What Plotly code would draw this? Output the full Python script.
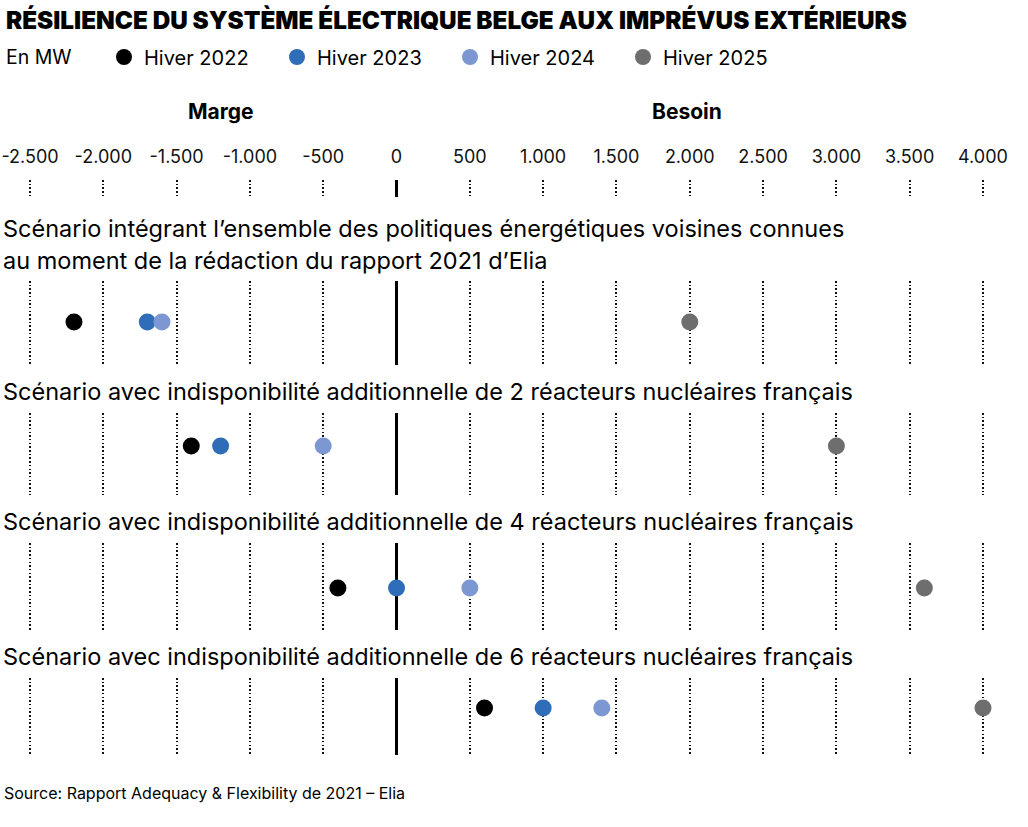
import plotly.graph_objects as go

# ---------------- data ----------------
scenario_lines = [
    ["Scénario intégrant l’ensemble des politiques énergétiques voisines connues",
     "au moment de la rédaction du rapport 2021 d’Elia"],
    ["Scénario avec indisponibilité additionnelle de 2 réacteurs nucléaires français"],
    ["Scénario avec indisponibilité additionnelle de 4 réacteurs nucléaires français"],
    ["Scénario avec indisponibilité additionnelle de 6 réacteurs nucléaires français"],
]
series_names = ["Hiver 2022", "Hiver 2023", "Hiver 2024", "Hiver 2025"]
hiver_2022 = [-2200, -1400, -400, 600]
hiver_2023 = [-1700, -1200, 0, 1000]
hiver_2024 = [-1600, -500, 500, 1400]
hiver_2025 = [2000, 3000, 3600, 4000]
series_values = [hiver_2022, hiver_2023, hiver_2024, hiver_2025]
tick_vals = [-2500, -2000, -1500, -1000, -500, 0, 500, 1000, 1500, 2000, 2500, 3000, 3500, 4000]
tick_text = ["-2.500", "-2.000", "-1.500", "-1.000", "-500", "0", "500", "1.000",
             "1.500", "2.000", "2.500", "3.000", "3.500", "4.000"]

# ---------------- styles ----------------
colors = ["#000000", "#2F6DB8", "#7C97D1", "#6E6E6E"]
W, H = 1028, 827
X0_PX, X1_PX = 30, 983          # pixel positions of -2500 and 4000
PAD_PX = 3
ML = X0_PX - PAD_PX
MR = W - X1_PX - PAD_PX
PW = W - ML - MR
lo, hi = tick_vals[0], tick_vals[-1]
upp = (hi - lo) / (X1_PX - X0_PX)   # units per pixel
xrange = [lo - PAD_PX * upp, hi + PAD_PX * upp]
FONT = "Inter"


def px2x(px):
    return (px - ML) / PW


def py2y(py):
    return 1 - py / H


header_band = (180, 197)
panel_bands = [(281, 365, 322), (413, 495, 446), (543, 630, 588), (678, 755, 708)]
title_rows = [[228, 260], [391], [521], [656]]

fig = go.Figure()

layout = dict(
    width=W, height=H,
    margin=dict(l=ML, r=MR, t=0, b=0, pad=0),
    paper_bgcolor="white", plot_bgcolor="white",
    font=dict(family=FONT, color="black"),
    showlegend=True,
)

xcommon = dict(
    range=xrange, tickvals=tick_vals, ticktext=tick_text, visible=True,
    showgrid=True, gridcolor="#111111", gridwidth=1.5, griddash="1.5px,2.2px",
    zeroline=True, zerolinecolor="black", zerolinewidth=3,
    showline=False, ticks="", fixedrange=True,
)

layout["xaxis"] = dict(xcommon, anchor="y", side="top", showticklabels=True,
                       tickfont=dict(size=18, family=FONT, color="#111"),
                       ticklabelstandoff=12)
layout["yaxis"] = dict(domain=[py2y(header_band[1]), py2y(header_band[0])],
                       range=[0, 1], visible=False, fixedrange=True, anchor="x")

for i, (top, bot, dot) in enumerate(panel_bands):
    n = i + 2
    layout[f"xaxis{n}"] = dict(xcommon, anchor=f"y{n}", matches="x", showticklabels=False)
    layout[f"yaxis{n}"] = dict(domain=[py2y(bot), py2y(top)],
                               range=[-(bot - dot), dot - top],
                               visible=False, fixedrange=True, anchor=f"x{n}")

# empty trace so the header subplot is drawn
fig.add_trace(go.Scatter(x=[None], y=[None], mode="markers", showlegend=False,
                         hoverinfo="skip", xaxis="x", yaxis="y"))

for k, (name, vals) in enumerate(zip(series_names, series_values)):
    for i, v in enumerate(vals):
        n = i + 2
        fig.add_trace(go.Scatter(
            x=[v], y=[0], mode="markers", name=name, legendgroup=name,
            showlegend=(i == 0), cliponaxis=False,
            marker=dict(color=colors[k], size=17, line=dict(width=0)),
            xaxis=f"x{n}", yaxis=f"y{n}",
        ))

annotations = [
    dict(text="RÉSILIENCE DU SYSTÈME ÉLECTRIQUE BELGE AUX IMPRÉVUS EXTÉRIEURS",
         x=px2x(4), y=py2y(20), xanchor="left", yanchor="middle",
         font=dict(size=24.3, family=FONT, weight=900, color="black")),
    dict(text="En MW", x=px2x(4), y=py2y(57), xanchor="left", yanchor="middle",
         font=dict(size=19.5, family=FONT, color="black")),
    dict(text="<b>Marge</b>", x=px2x(221), y=py2y(111), xanchor="center", yanchor="middle",
         font=dict(size=21, family=FONT, color="black")),
    dict(text="<b>Besoin</b>", x=px2x(687), y=py2y(111), xanchor="center", yanchor="middle",
         font=dict(size=21, family=FONT, color="black")),
    dict(text="Source: Rapport Adequacy &amp; Flexibility de 2021 – Elia",
         x=px2x(2), y=py2y(793), xanchor="left", yanchor="middle",
         font=dict(size=16, family=FONT, color="black")),
]
for lines, ys in zip(scenario_lines, title_rows):
    for txt, yy in zip(lines, ys):
        annotations.append(dict(text=txt, x=px2x(1), y=py2y(yy), xanchor="left",
                                yanchor="middle", align="left",
                                font=dict(size=23.5, family=FONT, color="black")))
for a in annotations:
    a.update(xref="paper", yref="paper", showarrow=False)
layout["annotations"] = annotations

layout["legend"] = dict(
    orientation="h", x=px2x(104), y=py2y(57), xanchor="left", yanchor="middle",
    font=dict(size=20, family=FONT, color="black"),
    entrywidth=128, entrywidthmode="pixels", itemsizing="trace",
    bgcolor="rgba(0,0,0,0)", itemclick=False, itemdoubleclick=False,
)

fig.update_layout(**layout)
fig.write_html("out.html", config={"displayModeBar": False},
               post_script="document.body.style.margin='0';")
